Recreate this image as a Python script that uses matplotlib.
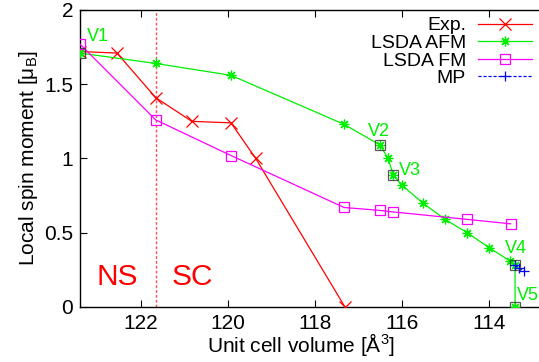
import matplotlib
matplotlib.use('Agg')
import matplotlib.pyplot as plt

plt.rcParams['font.family'] = ['Liberation Sans', 'DejaVu Sans']
plt.rcParams['mathtext.fontset'] = 'custom'
plt.rcParams['mathtext.rm'] = 'Liberation Sans'
plt.rcParams['mathtext.it'] = 'Liberation Sans:italic'

# data
exp_vol = [123.4, 122.55, 121.66, 120.83, 119.93, 119.36, 117.31]
exp_mom = [1.72, 1.71, 1.41, 1.25, 1.24, 1.00, 0.00]

afm_vol = [123.4, 121.66, 119.93, 117.33, 116.5, 116.32, 116.2, 116.0,
           115.52, 115.01, 114.5, 114.0, 113.52, 113.4, 113.4]
afm_mom = [1.71, 1.64, 1.56, 1.23, 1.09, 1.00, 0.89, 0.82,
           0.70, 0.59, 0.50, 0.40, 0.31, 0.28, 0.00]

fm_vol = [123.4, 121.66, 119.93, 117.33, 116.5, 116.2, 114.5, 113.5]
fm_mom = [1.77, 1.26, 1.02, 0.67, 0.65, 0.64, 0.59, 0.56]

mp_vol = [113.4, 113.3, 113.2]
mp_mom = [0.28, 0.26, 0.24]

v_names = ['V1', 'V2', 'V3', 'V4', 'V5']
v_vol = [123.4, 116.5, 116.2, 113.4, 113.4]
v_mom = [1.71, 1.09, 0.89, 0.28, 0.00]

ns_sc_boundary = 121.66

fig = plt.figure(figsize=(5.39, 3.62), dpi=100)
ax = fig.add_axes([0.1484, 0.152, 0.8516, 0.8204])

ax.axvline(ns_sc_boundary, color='#ff5050', lw=1.0, ls=(0, (2, 1.5)), zorder=1)

ax.plot(exp_vol, exp_mom, color='#ff0000', lw=0.9, marker='x', ms=8,
        mew=0.9, label='Exp.', zorder=3)
ax.plot(afm_vol, afm_mom, color='#00ee00', lw=0.9, marker=(8, 2, 0), ms=7,
        mew=0.9, label='LSDA AFM', zorder=3)
ax.plot(fm_vol, fm_mom, color='#ff00ff', lw=0.9, marker='s', ms=7,
        mfc='none', mew=0.9, label='LSDA FM', zorder=3)
ax.plot(mp_vol, mp_mom, color='#0000ff', lw=0.9, ls=(0, (2.5, 1.5)),
        marker='+', ms=7, mew=0.9, label='MP', zorder=4)

ax.plot(v_vol, v_mom, ls='none', marker='s', ms=7, mfc='none',
        mec='#303030', mew=0.9, alpha=0.8, zorder=5)

green = '#00ee00'
# label offsets: (to the right in volume units, up in moment)
label_off = [(0.41, 0.11), (-0.03, 0.09), (0.38, 0.026), (0.02, 0.117), (0.3, 0.08)]
for name, vx, vy, (dx, dy) in zip(v_names, v_vol, v_mom, label_off):
    ax.text(vx - dx, vy + dy, name, color=green, fontsize=13,
            ha='center', va='center', zorder=6)

ax.text(122.54, 0.2, 'NS', color='#ff0000', fontsize=21.5, ha='center', va='center')
ax.text(120.82, 0.2, 'SC', color='#ff0000', fontsize=21.5, ha='center', va='center')

ax.set_xlim(123.4, 112.85)
ax.set_ylim(0, 2)
ax.set_xticks([122, 120, 118, 116, 114])
ax.set_yticks([0, 0.5, 1, 1.5, 2])
ax.set_yticklabels(['0', '0.5', '1', '1.5', '2'])
ax.tick_params(direction='in', labelsize=15, top=True, length=5, width=0.8, pad=5)
ax.spines['right'].set_visible(False)
for s in ['left', 'bottom', 'top']:
    ax.spines[s].set_linewidth(1.0)

ax.set_xlabel('Unit cell volume [Å$^3$]', fontsize=15, labelpad=0)
ax.xaxis.set_label_coords(0.481, -0.082)
ax.set_ylabel('Local spin moment [μ$_\\mathrm{B}$]', fontsize=15, labelpad=3)

ax.legend(loc='upper right', bbox_to_anchor=(1.0, 1.0), frameon=False,
          markerfirst=False, fontsize=14, handlelength=2.8, labelspacing=0.0,
          borderaxespad=0.15, handletextpad=0.6, borderpad=0.2)

fig.savefig('out.png', dpi=100)
